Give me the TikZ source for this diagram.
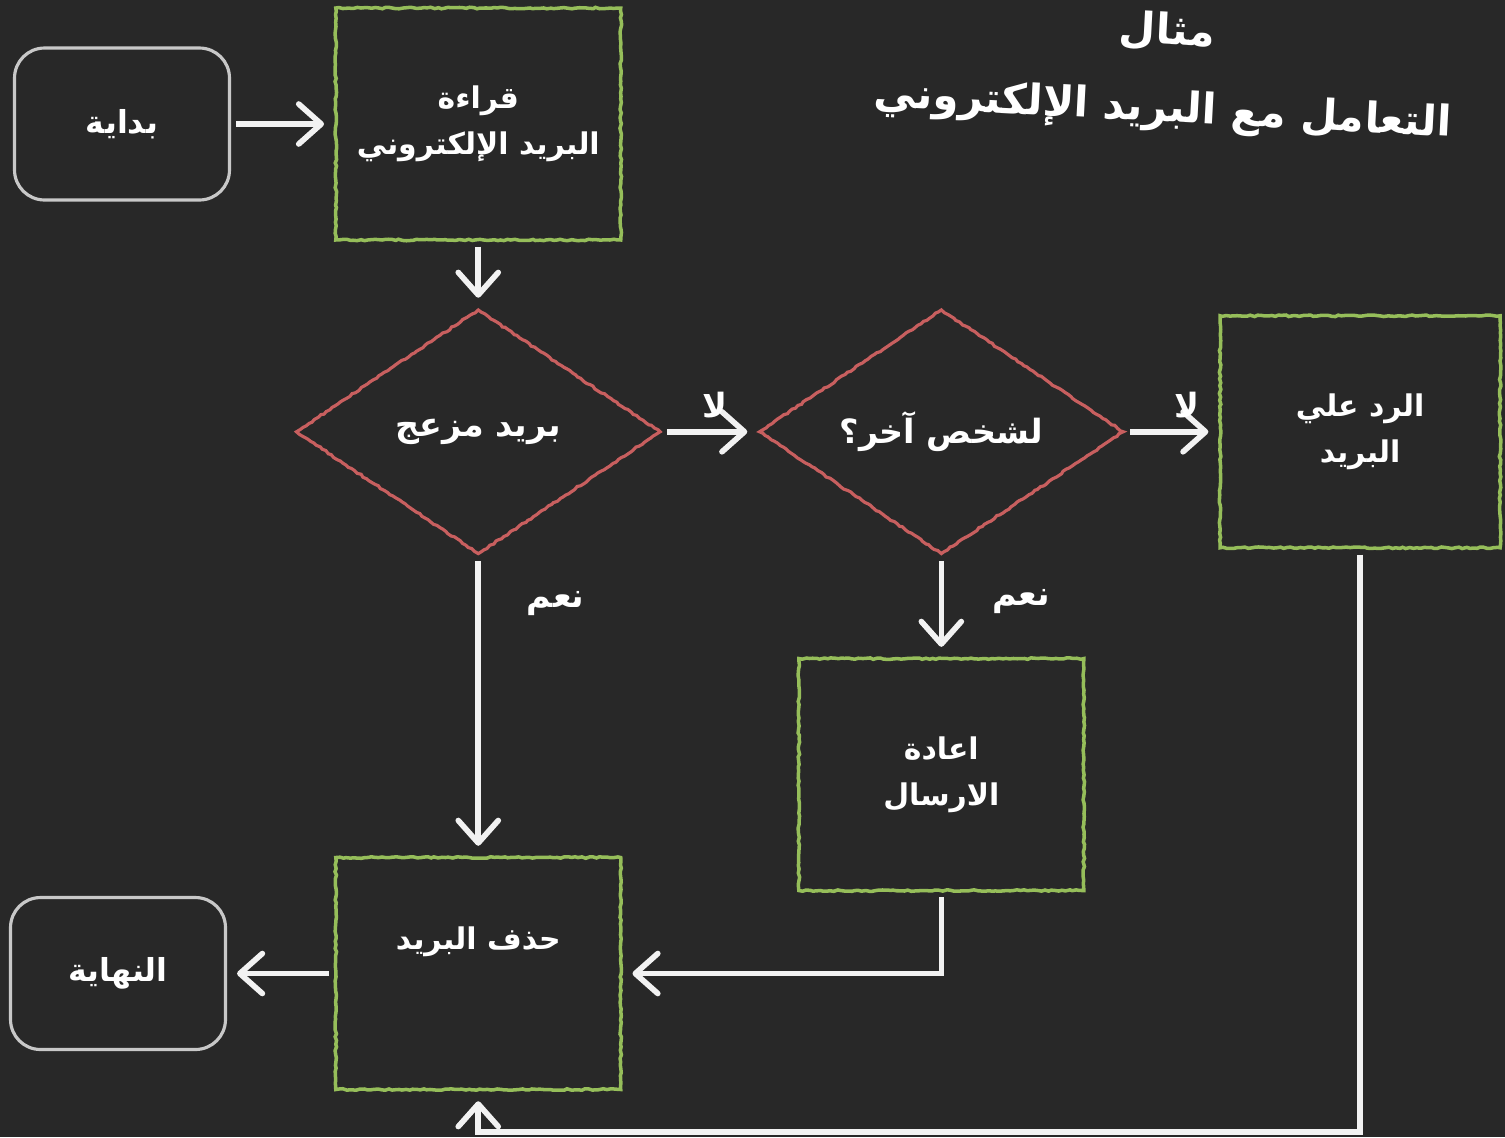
\documentclass[tikz,border=0pt]{standalone}
\usepackage{fontspec}
\newfontfamily\arabicfont[Script=Arabic]{DejaVu Sans}
\TeXXeTstate=1
\usepackage{tikz}
\usetikzlibrary{positioning}
\usetikzlibrary{shapes,arrows.meta,decorations.pathmorphing}
\newcommand{\artext}[1]{{\arabicfont\beginR #1\endR}}
\definecolor{board}{RGB}{40,40,40}
\definecolor{chalkgreen}{RGB}{150,190,90}
\definecolor{chalkred}{RGB}{200,95,95}
\definecolor{chalkgrey}{RGB}{200,200,200}
\definecolor{chalkwhite}{RGB}{242,242,242}
\tikzstyle{chalk} = [decorate, decoration={random steps, segment length=2pt, amplitude=0.45pt}]
\tikzstyle{terminal} = [rectangle, draw=chalkgrey, line width=1.8pt, rounded corners=0.6cm,
    minimum width=4.3cm, minimum height=3.04cm, text=white, font=\bfseries\fontsize{18}{22}\selectfont]
\tikzstyle{process} = [rectangle, draw=chalkgreen, line width=2pt, align=center,
    minimum width=5.7cm, minimum height=4.64cm, text=white, font=\bfseries\fontsize{17}{26}\selectfont, chalk]
\tikzstyle{decision} = [diamond, aspect=1.49, draw=chalkred, line width=1.8pt, inner sep=0pt,
    minimum width=7.3cm, minimum height=4.9cm, text=white, font=\bfseries\fontsize{19}{24}\selectfont, chalk]
\tikzstyle{line} = [draw=chalkwhite, line width=3.2pt, shorten <=0.1cm, shorten >=0.2cm,
    -{Straight Barb[length=0.45cm, width=0.8cm, round]}]
\tikzstyle{answer} = [text=white, font=\bfseries\fontsize{19}{24}\selectfont]

\begin{document}
\begin{tikzpicture}[x=0.02cm, y=-0.02cm, node distance=2cm, auto]
        \useasboundingbox (0,0) rectangle (1505,1137);
        \fill[board] (0,0) rectangle (1505,1137);
        \node [text=white, align=center, rotate=-3, font=\bfseries\fontsize{24}{44}\selectfont] (title) at (1165,72)
            {\artext{مثال}\\\artext{التعامل مع البريد الإلكتروني}};
        \node [terminal] (start) at (122,124) {\artext{بداية}};
        \node [process, right=2.06cm of start] (read) {\artext{قراءة}\\\artext{البريد الإلكتروني}};
        \node [decision, below=1.32cm of read] (spam) {\artext{بريد مزعج}};
        \node [decision, right=1.9cm of spam] (other) {\artext{لشخص آخر؟}};
        \node [process, minimum width=5.6cm, right=1.86cm of other] (reply) {\artext{الرد علي}\\\artext{البريد}};
        \node [process, below=2.02cm of other] (resend) {\artext{اعادة}\\\artext{الارسال}};
        \node [process, below=6cm of spam] (delete) {\artext{حذف البريد}\\[0.5cm]~};
        \node [terminal, left=2.14cm of delete] (end) {\artext{النهاية}};
        \coordinate (floor) at (delete.south |- 0,1132);
        % edges
        \path [line] (start) -- (read);
        \path [line] (read) -- (spam);
        \path [line] (spam) --node[answer, pos=0.55, above=3pt] {\artext{لا}} (other);
        \path [line] (other) --node[answer, pos=0.66, above=3pt] {\artext{لا}} (reply);
        \path [line] (spam) --node[answer, pos=0.16, right=0.8cm] {\artext{نعم}} (delete);
        \path [line] (other) --node[answer, pos=0.45, right=0.85cm] {\artext{نعم}} (resend);
        \path [line] (resend) |- (delete);
        \path [line] (delete) -- (end);
        \path [line] (reply.south) |- (floor) -- (delete.south);
    \end{tikzpicture}
\end{document}
